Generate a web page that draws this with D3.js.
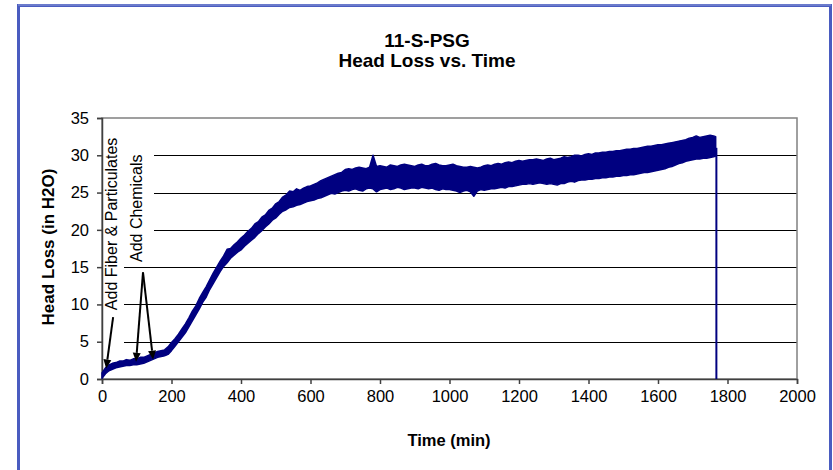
<!DOCTYPE html>
<html>
<head>
<meta charset="utf-8">
<script src="https://cdn.jsdelivr.net/npm/d3@7"></script>
<style>
  html, body { margin: 0; padding: 0; background: #ffffff; }
  svg { display: block; }
  text { font-family: "Liberation Sans", Arial, sans-serif; fill: #000; }
</style>
</head>
<body>
<svg id="chart" width="833" height="470"></svg>
<script>
// Test 11-S-PSG: sampled head loss band (low / high envelope of the noisy record)
const time = [
  0, 10, 20, 30, 40, 50, 60, 70, 80, 90,
  100, 110, 120, 130, 140, 150, 160, 170, 180, 190,
  200, 210, 220, 230, 240, 250, 260, 270, 280, 290,
  300, 310, 320, 330, 340, 350, 360, 370, 380, 390,
  400, 410, 420, 430, 440, 450, 460, 470, 480, 490,
  500, 510, 520, 530, 540, 550, 560, 570, 580, 590,
  600, 610, 620, 630, 640, 650, 660, 670, 680, 690,
  700, 710, 720, 730, 740, 750, 760, 770, 780, 790,
  800, 810, 820, 830, 840, 850, 860, 870, 880, 890,
  900, 910, 920, 930, 940, 950, 960, 970, 980, 990,
  1000, 1010, 1020, 1030, 1040, 1050, 1060, 1070, 1080, 1090,
  1100, 1110, 1120, 1130, 1140, 1150, 1160, 1170, 1180, 1190,
  1200, 1210, 1220, 1230, 1240, 1250, 1260, 1270, 1280, 1290,
  1300, 1310, 1320, 1330, 1340, 1350, 1360, 1370, 1380, 1390,
  1400, 1410, 1420, 1430, 1440, 1450, 1460, 1470, 1480, 1490,
  1500, 1510, 1520, 1530, 1540, 1550, 1560, 1570, 1580, 1590,
  1600, 1610, 1620, 1630, 1640, 1650, 1660, 1670, 1680, 1690,
  1700, 1710, 1720, 1730, 1740, 1750, 1760, 1766
];
const headLossLow = [
  0.1, 0.7, 1.1, 1.3, 1.5, 1.6, 1.7, 1.8, 1.8, 1.9,
  1.9, 2.0, 2.1, 2.3, 2.5, 2.7, 2.9, 3.0, 3.1, 3.3,
  3.8, 4.4, 5.0, 5.6, 6.2, 7.0, 7.8, 8.6, 9.4, 10.3,
  11.0, 12.0, 12.8, 13.6, 14.4, 15.1, 15.6, 16.2, 16.6, 17.0,
  17.3, 17.8, 18.2, 18.6, 19.0, 19.5, 19.9, 20.4, 20.8, 21.3,
  21.6, 22.1, 22.5, 22.7, 23.0, 23.1, 23.3, 23.4, 23.6, 23.8,
  23.9, 24.0, 24.2, 24.3, 24.5, 24.7, 24.9, 24.8, 25.0, 25.2,
  25.3, 25.2, 25.4, 25.5, 25.3, 25.2, 25.5, 25.6, 25.5, 25.1,
  25.4, 25.5, 25.6, 25.4, 25.5, 25.7, 25.6, 25.4, 25.5, 25.6,
  25.6, 25.5, 25.7, 25.6, 25.5, 25.6, 25.4, 25.3, 25.5, 25.4,
  25.4, 25.3, 25.2, 25.0, 25.2, 25.3, 25.1, 24.5, 25.2, 25.4,
  25.3, 25.4, 25.5, 25.5, 25.6, 25.7, 25.6, 25.8, 25.8, 25.9,
  26.0, 26.1, 26.1, 26.2, 26.1, 26.2, 26.3, 26.2, 26.1, 26.2,
  26.1, 26.0, 26.2, 26.2, 26.4, 26.5, 26.4, 26.6, 26.7, 26.7,
  26.8, 26.8, 26.9, 26.9, 27.0, 27.0, 27.1, 27.1, 27.2, 27.2,
  27.3, 27.3, 27.4, 27.4, 27.5, 27.6, 27.7, 27.7, 27.8, 27.9,
  28.0, 28.1, 28.2, 28.4, 28.5, 28.7, 28.9, 29.0, 29.2, 29.3,
  29.4, 29.5, 29.5, 29.6, 29.6, 29.7, 29.8, 29.9
];
const headLossHigh = [
  0.8, 1.5, 1.9, 2.1, 2.2, 2.4, 2.4, 2.6, 2.5, 2.7,
  2.7, 2.9, 2.9, 3.1, 3.3, 3.5, 3.7, 3.8, 3.9, 4.3,
  4.9, 5.4, 6.0, 6.7, 7.4, 8.2, 9.1, 9.8, 10.8, 11.6,
  12.4, 13.3, 14.2, 15.0, 15.8, 16.5, 17.4, 17.5, 18.0, 18.4,
  18.9, 19.3, 19.8, 20.2, 20.8, 21.1, 21.7, 22.0, 22.6, 22.9,
  23.5, 23.8, 24.4, 24.7, 25.2, 25.1, 25.5, 25.3, 25.6, 25.8,
  25.9, 26.1, 26.3, 26.6, 26.8, 27.0, 27.2, 27.4, 27.6, 27.7,
  28.1, 28.2, 28.1, 28.3, 28.4, 28.3, 28.2, 28.4, 30.0, 28.5,
  28.6, 28.5, 28.4, 28.7, 28.6, 28.5, 28.7, 28.8, 28.7, 28.6,
  28.5, 28.7, 28.8, 28.6, 28.6, 28.8, 28.9, 28.7, 28.6, 28.6,
  28.7, 28.8, 28.6, 28.5, 28.4, 28.4, 28.5, 28.4, 28.3, 28.4,
  28.6, 28.7, 28.6, 28.8, 28.9, 28.8, 29.0, 29.1, 29.0, 29.2,
  29.3, 29.2, 29.3, 29.4, 29.4, 29.5, 29.4, 29.3, 29.5, 29.6,
  29.4, 29.5, 29.6, 29.8, 29.7, 29.8, 30.0, 30.0, 29.9, 30.1,
  30.2, 30.1, 30.3, 30.3, 30.4, 30.4, 30.5, 30.5, 30.6, 30.6,
  30.7, 30.8, 30.8, 30.9, 30.9, 31.0, 31.1, 31.2, 31.2, 31.3,
  31.4, 31.4, 31.5, 31.6, 31.7, 31.8, 31.9, 32.0, 32.1, 32.3,
  32.4, 32.6, 32.4, 32.5, 32.6, 32.7, 32.6, 32.5
];
// Test shut-down: reading falls from its last level to zero
const shutdownTime = [1768, 1768];
const shutdownLevel = [31.0, 0];

const xTicks = [0, 200, 400, 600, 800, 1000, 1200, 1400, 1600, 1800, 2000];
const yTicks = [0, 5, 10, 15, 20, 25, 30, 35];

// Event annotations: label, label anchor (time, head loss), arrow tail and tips
const fiberLabel = "Add Fiber & Particulates";
const fiberLabelAt = [30, 20.8];
const fiberArrowTail = [32, 8.3];
const fiberArrowTips = [[12, 1.4]];
const chemLabel = "Add Chemicals";
const chemLabelAt = [100, 22.9];
const chemArrowTail = [118, 14.3];
const chemArrowTips = [[98, 2.3], [147, 2.6]];

const svg = d3.select("#chart");
const plot = { left: 102, right: 797, top: 118, bottom: 379 };

const x = d3.scaleLinear().domain([0, 2000]).range([plot.left, plot.right]);
const y = d3.scaleLinear().domain([0, 35]).range([plot.bottom, plot.top]);

// Outer frame
svg.append("rect")
  .attr("x", 18.5).attr("y", 5.5).attr("width", 812).attr("height", 480)
  .attr("fill", "#fff").attr("stroke", "#4a5cc0").attr("stroke-width", 3);
svg.append("line")
  .attr("x1", 18).attr("x2", 831).attr("y1", 5).attr("y2", 5)
  .attr("stroke", "#8c9ad8").attr("stroke-width", 1);

// Titles
svg.append("text").attr("x", 427).attr("y", 47).attr("text-anchor", "middle")
  .style("font-size", "19px").style("font-weight", "bold").text("11-S-PSG");
svg.append("text").attr("x", 427).attr("y", 67).attr("text-anchor", "middle")
  .style("font-size", "19px").style("font-weight", "bold").text("Head Loss vs. Time");

// Gridlines
svg.append("g").selectAll("line")
  .data(yTicks.filter(d => d > 0 && d < 35))
  .join("line")
  .attr("x1", plot.left).attr("x2", plot.right)
  .attr("y1", d => Math.round(y(d)) + 0.5).attr("y2", d => Math.round(y(d)) + 0.5)
  .attr("stroke", "#000").attr("stroke-width", 1);

// Plot frame
svg.append("rect")
  .attr("x", plot.left).attr("y", plot.top)
  .attr("width", plot.right - plot.left).attr("height", plot.bottom - plot.top)
  .attr("fill", "none").attr("stroke", "#808080").attr("stroke-width", 1.5);

// Label backgrounds that mask the gridlines behind the event notes
svg.append("rect")
  .attr("x", plot.left + 1).attr("y", 122).attr("width", 21).attr("height", 228)
  .attr("fill", "#fff");
svg.append("rect")
  .attr("x", plot.left + 22).attr("y", 140).attr("width", 30).attr("height", 115)
  .attr("fill", "#fff");

// Axes
const xAxis = d3.axisBottom(x).tickValues(xTicks).tickSize(5).tickPadding(6).tickFormat(d3.format("d"));
const gx = svg.append("g").attr("transform", `translate(0,${plot.bottom})`).call(xAxis);
gx.select(".domain").attr("stroke", "#404040").attr("stroke-width", 1.5);
gx.selectAll(".tick line").attr("stroke", "#404040").attr("stroke-width", 1.5);
gx.selectAll(".tick text").style("font-size", "16.5px").style("font-family", "Liberation Sans, Arial, sans-serif")
  .attr("fill", "#000");

const yAxis = d3.axisLeft(y).tickValues(yTicks).tickSize(5).tickPadding(8).tickFormat(d3.format("d"));
const gy = svg.append("g").attr("transform", `translate(${plot.left},0)`).call(yAxis);
gy.select(".domain").attr("stroke", "#404040").attr("stroke-width", 1.5);
gy.selectAll(".tick line").attr("stroke", "#404040").attr("stroke-width", 1.5);
gy.selectAll(".tick text").style("font-size", "16.5px").style("font-family", "Liberation Sans, Arial, sans-serif")
  .attr("fill", "#000");

// Axis titles
svg.append("text").attr("x", 449).attr("y", 446).attr("text-anchor", "middle")
  .style("font-size", "16.5px").style("font-weight", "bold").text("Time (min)");
svg.append("text").attr("transform", "translate(54,247) rotate(-90)").attr("text-anchor", "middle")
  .style("font-size", "17px").style("font-weight", "bold").text("Head Loss (in H2O)");

// Head loss record
const band = time.map((t, i) => ({ t, lo: headLossLow[i], hi: headLossHigh[i] }));
const area = d3.area().x(d => x(d.t)).y0(d => y(d.lo)).y1(d => y(d.hi));
svg.append("path").datum(band).attr("d", area)
  .attr("fill", "#000080").attr("stroke", "#000080").attr("stroke-width", 1.5)
  .attr("stroke-linejoin", "round");
const drop = shutdownTime.map((t, i) => ({ t, v: shutdownLevel[i] }));
svg.append("path").datum(drop)
  .attr("d", d3.line().x(d => x(d.t)).y(d => y(d.v)))
  .attr("fill", "none").attr("stroke", "#000080").attr("stroke-width", 2);

// Event notes
svg.append("text")
  .attr("transform", `translate(${x(fiberLabelAt[0]) + 5},${y(fiberLabelAt[1])}) rotate(-90)`)
  .attr("text-anchor", "middle").style("font-size", "16px").text(fiberLabel);
svg.append("text")
  .attr("transform", `translate(${x(chemLabelAt[0]) + 5},${y(chemLabelAt[1])}) rotate(-90)`)
  .attr("text-anchor", "middle").style("font-size", "16px").text(chemLabel);

function arrow(tail, tip) {
  const x0 = x(tail[0]), y0 = y(tail[1]), x1 = x(tip[0]), y1 = y(tip[1]);
  const ang = Math.atan2(y1 - y0, x1 - x0);
  const len = 9, half = 4;
  const bx = x1 - len * Math.cos(ang), by = y1 - len * Math.sin(ang);
  svg.append("line").attr("x1", x0).attr("y1", y0).attr("x2", bx).attr("y2", by)
    .attr("stroke", "#000").attr("stroke-width", 2);
  const px = -Math.sin(ang) * half, py = Math.cos(ang) * half;
  svg.append("path")
    .attr("d", `M${x1},${y1}L${bx + px},${by + py}L${bx - px},${by - py}Z`)
    .attr("fill", "#000");
}
fiberArrowTips.forEach(tip => arrow(fiberArrowTail, tip));
chemArrowTips.forEach(tip => arrow(chemArrowTail, tip));
</script>
</body>
</html>
